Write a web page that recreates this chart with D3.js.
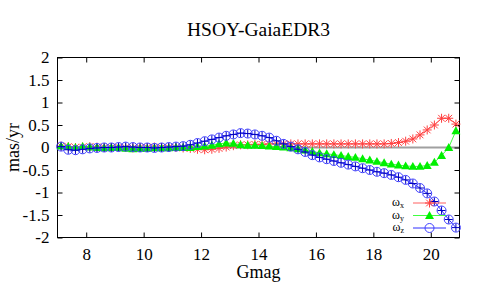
<!DOCTYPE html>
<html><head><meta charset="utf-8">
<script src="https://cdn.jsdelivr.net/npm/d3@7"></script>
<style>body{margin:0;background:#fff}svg{display:block}</style>
</head><body>
<script>
const title = "HSOY-GaiaEDR3";
const xLabel = "Gmag";
const yLabel = "mas/yr";
const gmag = d3.range(56).map(k => 7.125 + 0.25 * k);
const omegaX = [0.03,0.02,0.0,0.01,0.02,0.01,0.0,0.0,0.01,0.0,
  -0.01,0.0,0.0,0.01,0.0,0.0,0.0,-0.01,-0.02,-0.04,
  -0.05,-0.04,-0.02,0.01,0.04,0.06,0.06,0.07,0.07,0.08,
  0.08,0.08,0.08,0.08,0.08,0.08,0.08,0.08,0.08,0.08,
  0.08,0.08,0.08,0.08,0.08,0.08,0.09,0.11,0.14,0.19,
  0.28,0.39,0.5,0.65,0.65,0.52];
const omegaY = [0.03,0.02,0.0,0.02,0.01,0.0,-0.01,0.0,0.0,-0.02,
  -0.03,-0.02,-0.02,-0.01,-0.01,-0.01,0.0,0.0,0.0,0.02,
  0.03,0.05,0.08,0.1,0.09,0.06,0.05,0.05,0.04,0.03,
  0.02,0.01,-0.01,-0.03,-0.06,-0.09,-0.12,-0.14,-0.16,-0.18,
  -0.2,-0.22,-0.25,-0.28,-0.31,-0.34,-0.37,-0.39,-0.41,-0.42,
  -0.42,-0.4,-0.33,-0.18,0.0,0.37];
const omegaZ = [0.02,-0.05,-0.06,-0.04,-0.02,-0.01,0.0,0.0,0.01,0.02,
  0.01,0.0,0.0,-0.01,0.0,0.01,0.02,0.03,0.06,0.1,
  0.14,0.18,0.22,0.26,0.29,0.32,0.31,0.29,0.26,0.22,
  0.15,0.08,0.02,-0.04,-0.1,-0.17,-0.22,-0.26,-0.3,-0.34,
  -0.38,-0.42,-0.46,-0.5,-0.54,-0.57,-0.61,-0.66,-0.72,-0.8,
  -0.9,-1.02,-1.2,-1.4,-1.6,-1.78];
const xTicks = [8,10,12,14,16,18,20];
const yTicks = [-2,-1.5,-1,-0.5,0,0.5,1,1.5,2];
const seriesNames = ["ω", "ω", "ω"];
const seriesSubs = ["x", "y", "z"];

const W = 480, H = 288;
const L = 57.5, R = 459.5, T = 57.5, B = 237.5;
const font = "'Liberation Serif','Times New Roman',serif";
const svg = d3.select("body").append("svg").attr("width", W).attr("height", H);
const x = d3.scaleLinear().domain([7, 21]).range([L, R]);
const y = d3.scaleLinear().domain([-2, 2]).range([B, T]);

// zero line
svg.append("line").attr("x1", L).attr("x2", R).attr("y1", y(0)).attr("y2", y(0))
  .attr("stroke", "#a0a0a0").attr("stroke-width", 2);

// axes with inward ticks
const gx = svg.append("g").attr("transform", `translate(0,${B})`)
  .call(d3.axisBottom(x).tickValues(xTicks).tickSize(-5).tickPadding(10).tickFormat(d3.format("d")));
const gxt = svg.append("g").attr("transform", `translate(0,${T})`)
  .call(d3.axisTop(x).tickValues(xTicks).tickSize(-5).tickFormat(""));
const gy = svg.append("g").attr("transform", `translate(${L},0)`)
  .call(d3.axisLeft(y).tickValues(yTicks).tickSize(-5).tickPadding(8).tickFormat(d => String(d)));
const gyr = svg.append("g").attr("transform", `translate(${R},0)`)
  .call(d3.axisRight(y).tickValues(yTicks).tickSize(-5).tickFormat(""));
[gx, gxt, gy, gyr].forEach(g => {
  g.select(".domain").remove();
  g.selectAll(".tick line").attr("stroke", "#000");
  g.selectAll("text").attr("font-family", font).attr("font-size", 17).attr("fill", "#000");
});
gx.selectAll("text").attr("dy", "0.71em");

svg.append("rect").attr("x", L).attr("y", T).attr("width", R - L).attr("height", B - T)
  .attr("fill", "none").attr("stroke", "#000").attr("stroke-width", 1);

// title & labels
svg.append("text").attr("x", (L + R) / 2).attr("y", 36).attr("text-anchor", "middle")
  .attr("font-family", font).attr("font-size", 19.5).text(title);
svg.append("text").attr("x", (L + R) / 2).attr("y", 278).attr("text-anchor", "middle")
  .attr("font-family", font).attr("font-size", 18).text(xLabel);
svg.append("text").attr("transform", `translate(19,${(T + B) / 2}) rotate(-90)`)
  .attr("text-anchor", "middle").attr("font-family", font).attr("font-size", 18).text(yLabel);

const lineColors = ["#ff6060", "#40ff40", "#3030ff"];
const data = [omegaX, omegaY, omegaZ];
const line = d3.line().x(d => x(d[0])).y(d => y(d[1]));

function drawMarker(g, type, cx, cy) {
  if (type === 0) {
    const s = 4.5;
    g.append("path").attr("d",
      `M${cx - s},${cy}H${cx + s}M${cx},${cy - s}V${cy + s}M${cx - s * 0.75},${cy - s * 0.75}L${cx + s * 0.75},${cy + s * 0.75}M${cx - s * 0.75},${cy + s * 0.75}L${cx + s * 0.75},${cy - s * 0.75}`)
      .attr("stroke", "#ff4040").attr("stroke-width", 1).attr("fill", "none");
  } else if (type === 1) {
    const s = 4.5;
    g.append("path").attr("d", `M${cx},${cy - s}L${cx + s},${cy + s * 0.75}L${cx - s},${cy + s * 0.75}Z`)
      .attr("fill", "#00f000");
  } else {
    g.append("circle").attr("cx", cx).attr("cy", cy).attr("r", 4.5)
      .attr("fill", "none").attr("stroke", "#4040ff").attr("stroke-width", 1);
  }
}

const plot = svg.append("g");
data.forEach((vals, i) => {
  const pts = gmag.map((g, k) => [g, vals[k]]);
  plot.append("path").datum(pts).attr("d", line).attr("fill", "none")
    .attr("stroke", lineColors[i]).attr("stroke-width", 1);
  const mg = plot.append("g");
  pts.forEach(p => drawMarker(mg, i, x(p[0]), y(p[1])));
  if (i === 2) {
    pts.forEach(p => {
      const cx = x(p[0]), cy = y(p[1]);
      mg.append("path").attr("d", `M${cx - 4},${cy}H${cx + 4}M${cx},${cy - 4}V${cy + 4}`)
        .attr("stroke", "#0000c0").attr("stroke-width", 1);
    });
  }
});

// legend
const legY = [203, 215.5, 228];
seriesNames.forEach((n, i) => {
  const t = svg.append("text").attr("x", 404).attr("y", legY[i] + 3).attr("text-anchor", "end")
    .attr("font-family", font).attr("font-size", 12);
  t.append("tspan").text(n);
  t.append("tspan").attr("font-size", 8).attr("dy", 2).text(seriesSubs[i]);
  svg.append("line").attr("x1", 413).attr("x2", 446).attr("y1", legY[i]).attr("y2", legY[i])
    .attr("stroke", lineColors[i]).attr("stroke-width", 1);
  drawMarker(svg.append("g"), i, 429.5, legY[i]);
});
</script>
</body></html>
